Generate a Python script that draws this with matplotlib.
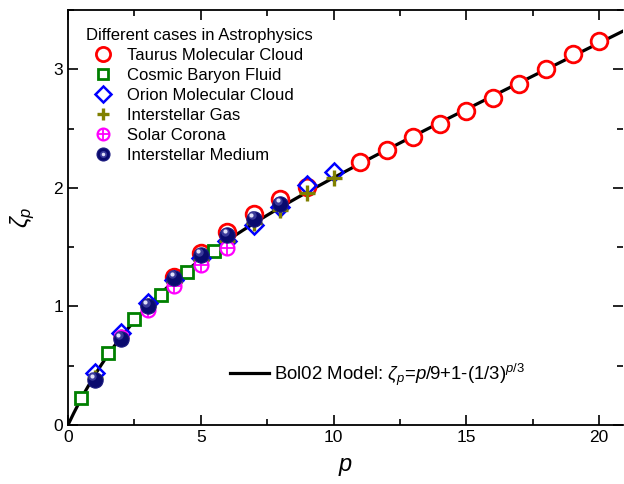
import numpy as np
import matplotlib
matplotlib.use("Agg")
import matplotlib.pyplot as plt
from matplotlib.ticker import MultipleLocator

plt.rcParams['font.family'] = ['Liberation Sans', 'DejaVu Sans']
plt.rcParams['mathtext.fontset'] = 'custom'
plt.rcParams['mathtext.rm'] = 'Liberation Sans'
plt.rcParams['mathtext.it'] = 'Liberation Sans:italic'

# Data
taurus_p = [4, 5, 6, 7, 8, 9, 11, 12, 13, 14, 15, 16, 17, 18, 19, 20]
taurus_z = [1.25, 1.45, 1.63, 1.78, 1.91, 2.01,
            2.22, 2.32, 2.43, 2.54, 2.65, 2.76, 2.88, 3.00, 3.13, 3.24]
baryon_p = [0.5, 1.5, 2.5, 3.5, 4.5, 5.5]
baryon_z = [0.225, 0.61, 0.89, 1.10, 1.29, 1.47]
orion_p = [1, 2, 3, 4, 5, 6, 7, 8, 9, 10]
orion_z = [0.44, 0.78, 1.03, 1.22, 1.41, 1.55, 1.69, 1.84, 2.02, 2.13]
gas_p = [1, 2, 3, 4, 5, 6, 7, 8, 9, 10]
gas_z = [0.40, 0.74, 1.00, 1.21, 1.39, 1.55, 1.70, 1.81, 1.96, 2.08]
corona_p = [2, 3, 4, 5, 6]
corona_z = [0.74, 0.97, 1.17, 1.35, 1.49]
ism_p = [1, 2, 3, 4, 5, 6, 7, 8]
ism_z = [0.38, 0.725, 1.00, 1.24, 1.43, 1.60, 1.74, 1.86]

fig = plt.figure(figsize=(6.24, 4.84), dpi=100)
ax = fig.add_axes([68/624, 59/484, 555/624, 415/484])

pm = np.linspace(0, 21, 400)
zm = pm/9 + 1 - (1/3)**(pm/3)
line, = ax.plot(pm, zm, color='black', lw=2.3, zorder=2)

h_t, = ax.plot(taurus_p, taurus_z, 'o', ms=12, mfc='white', mec='red', mew=2.0, ls='none', zorder=3)
h_b, = ax.plot(baryon_p, baryon_z, 's', ms=8, mfc='white', mec='green', mew=2.0, ls='none', zorder=4)
h_o, = ax.plot(orion_p, orion_z, 'D', ms=9.5, mfc='none', mec='blue', mew=1.8, ls='none', zorder=4)
h_g, = ax.plot(gas_p, gas_z, '+', ms=11, mec='#808000', mew=2.4, ls='none', zorder=4)
h_c1, = ax.plot(corona_p, corona_z, 'o', ms=10, mfc='white', mec='magenta', mew=1.6, ls='none', zorder=5)
h_c2, = ax.plot(corona_p, corona_z, '+', ms=10, mec='magenta', mew=1.3, ls='none', zorder=5)
h_s1, = ax.plot(ism_p, ism_z, 'o', ms=11, mfc='#0a0a6e', mec='#1a1a80', mew=0.8, ls='none', zorder=6)
h_s3, = ax.plot([p - 0.08 for p in ism_p], [z + 0.03 for z in ism_z], 'o', ms=6,
                mfc='#3a3a9a', mec='none', ls='none', zorder=7)
h_s2, = ax.plot([p - 0.1 for p in ism_p], [z + 0.035 for z in ism_z], 'o', ms=3,
                mfc='#e0e0f8', mec='none', ls='none', zorder=8)

leg1 = ax.legend([h_t, h_b, h_o, h_g, (h_c1, h_c2), (h_s1, h_s3, h_s2)],
                 ['Taurus Molecular Cloud', 'Cosmic Baryon Fluid', 'Orion Molecular Cloud',
                  'Interstellar Gas', 'Solar Corona', 'Interstellar Medium'],
                 title='Different cases in Astrophysics', loc='upper left',
                 bbox_to_anchor=(0.011, 0.985), frameon=False, fontsize=12,
                 title_fontsize=12, handlelength=2.1, handletextpad=0.4,
                 labelspacing=0.3, alignment='left', markerscale=0.85,
                 borderaxespad=0.3)
ax.add_artist(leg1)
ax.legend([line], [r'Bol02 Model: $\zeta_p$=$p$/9+1-(1/3)$^{p/3}$'], loc='lower left',
          bbox_to_anchor=(0.262, 0.05), frameon=False, fontsize=13.4, handlelength=2.1,
          handletextpad=0.25)

ax.set_xlim(0, 20.9)
ax.set_ylim(0, 3.5)
ax.xaxis.set_major_locator(MultipleLocator(5))
ax.xaxis.set_minor_locator(MultipleLocator(2.5))
ax.yaxis.set_major_locator(MultipleLocator(1))
ax.yaxis.set_minor_locator(MultipleLocator(0.5))
ax.tick_params(which='both', direction='in', top=True, right=True, labelsize=12.5, width=1.2)
ax.tick_params(which='major', length=7)
ax.tick_params(which='minor', length=4)
for s in ax.spines.values():
    s.set_linewidth(1.3)
ax.spines['right'].set_visible(False)

ax.set_xlabel(r'$p$', fontsize=17, labelpad=8)
ax.set_ylabel(r'$\zeta_p$', fontsize=17, labelpad=12)

fig.savefig('out.png', dpi=100)
